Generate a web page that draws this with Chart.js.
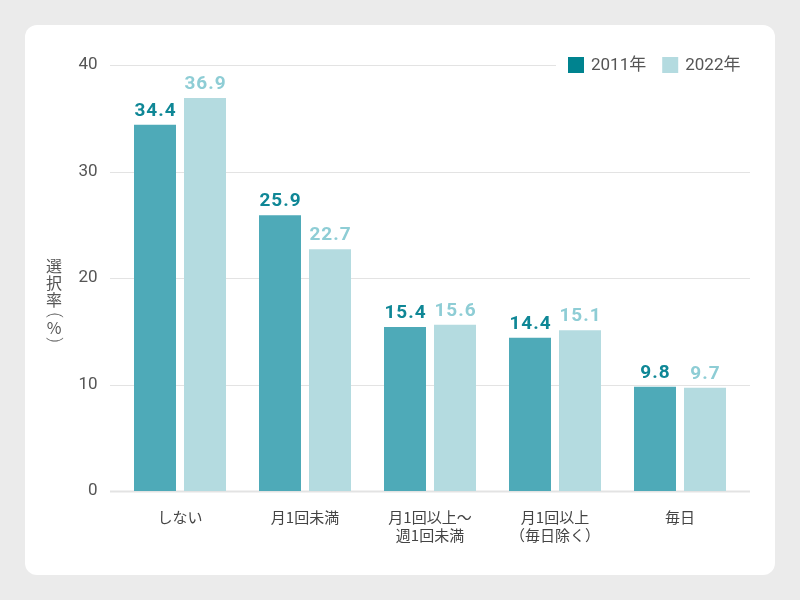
<!DOCTYPE html>
<html>
<head>
<meta charset="utf-8">
<script src="https://cdn.jsdelivr.net/npm/chart.js@4"></script>
<style>
body{margin:0;background:#ebebeb;width:800px;height:600px;overflow:hidden;}
#card{position:absolute;left:25px;top:25px;width:750px;height:550px;background:#fff;border-radius:12px;}
#chart{position:absolute;left:0;top:0;}
</style>
</head>
<body>
<div id="card"></div>
<canvas id="chart" width="800" height="600"></canvas>
<script>
const categories = [['しない'], ['月1回未満'], ['月1回以上～', '週1回未満'], ['月1回以上', '（毎日除く）'], ['毎日']];
const seriesNames = ['2011年', '2022年'];
const values2011 = [34.4, 25.9, 15.4, 14.4, 9.8];
const values2022 = [36.9, 22.7, 15.6, 15.1, 9.7];
const yTicks = [0, 10, 20, 30, 40];
// y title "選択率（%）", written top to bottom; brackets are turned on their side
const yTitle = ['選', '択', '率', '(', '%', ')'];

const barColors = ['#4eaab8', '#b4dbe0'];
const labelColors = ['#0f8796', '#8ecdd5'];
const legendColors = ['#00838f', '#b4dbe0'];
const numFont = 'Roboto, "Noto Sans CJK JP", sans-serif';
const jpFont = '"Noto Sans CJK JP", Roboto, sans-serif';

// horizontal grid lines, a little wider than the category area
const gridLines = {
    id: 'gridLines',
    beforeDatasetsDraw(chart){
        const ctx = chart.ctx;
        const y = chart.scales.y;
        ctx.save();
        ctx.strokeStyle = '#e3e3e3';
        yTicks.forEach(v=>{
            const py = Math.round(y.getPixelForValue(v)) + 0.5;
            ctx.lineWidth = v === 0 ? 2 : 1;
            ctx.beginPath();
            ctx.moveTo(110, py);
            ctx.lineTo(750, py);
            ctx.stroke();
        });
        ctx.restore();
    }
};

const valueLabels = {
    id: 'valueLabels',
    afterDatasetsDraw(chart){
        const ctx = chart.ctx;
        ctx.save();
        ctx.font = 'bold 19px ' + numFont;
        ctx.letterSpacing = '1px';
        ctx.textAlign = 'center';
        ctx.textBaseline = 'bottom';
        chart.data.datasets.forEach((ds, i)=>{
            ctx.fillStyle = labelColors[i];
            chart.getDatasetMeta(i).data.forEach((bar, j)=>{
                ctx.fillText(ds.data[j].toFixed(1), bar.x + 0.5, bar.y - 4);
            });
        });
        ctx.restore();
    }
};

const extras = {
    id: 'extras',
    afterDraw(chart){
        const ctx = chart.ctx;
        ctx.save();
        // legend
        ctx.fillStyle = '#fff';
        ctx.fillRect(556, 52, 196, 26);
        ctx.font = '17px ' + numFont;
        ctx.textBaseline = 'middle';
        ctx.textAlign = 'left';
        let x = 568;
        seriesNames.forEach((name, i)=>{
            ctx.fillStyle = legendColors[i];
            ctx.fillRect(x, 57, 16, 16);
            ctx.fillStyle = '#555';
            ctx.fillText(name, x + 23, 66);
            x += 23 + ctx.measureText(name).width + 16;
        });
        // y axis title, stacked vertically
        ctx.textAlign = 'center';
        ctx.fillStyle = '#555';
        const ys = [266, 283, 300, 315, 328, 340];
        yTitle.forEach((ch, i)=>{
            if(ch === '(' || ch === ')'){
                ctx.save();
                ctx.translate(54, ys[i]);
                ctx.rotate(Math.PI / 2);
                ctx.font = '300 16px ' + numFont;
                ctx.fillText(ch, 0, 0);
                ctx.restore();
            }else{
                ctx.font = '16px ' + jpFont;
                ctx.fillText(ch, 54, ys[i]);
            }
        });
        ctx.restore();
    }
};

new Chart(document.getElementById('chart'), {
    type: 'bar',
    data: {
        labels: categories,
        datasets: [
            {label: seriesNames[0], data: values2011, backgroundColor: barColors[0]},
            {label: seriesNames[1], data: values2022, backgroundColor: barColors[1]}
        ]
    },
    options: {
        responsive: false,
        animation: false,
        devicePixelRatio: 1,
        categoryPercentage: 0.8,
        barPercentage: 0.84,
        layout: {padding: {left: 25, right: 57.5, top: 65, bottom: 25}},
        plugins: {legend: {display: false}, tooltip: {enabled: false}},
        scales: {
            x: {
                grid: {display: false},
                border: {display: false},
                ticks: {color: '#444', font: {family: jpFont, size: 15}, padding: 9, maxRotation: 0, autoSkip: false},
                afterFit(scale){ scale.height = 84; }
            },
            y: {
                min: 0, max: 40,
                afterBuildTicks(scale){ scale.ticks = yTicks.map(v=>({value: v})); },
                grid: {display: false},
                border: {display: false},
                ticks: {color: '#555', font: {family: numFont, size: 17}, padding: 12},
                afterFit(scale){ scale.width = 92.5; }
            }
        }
    },
    plugins: [gridLines, valueLabels, extras]
});
</script>
</body>
</html>
